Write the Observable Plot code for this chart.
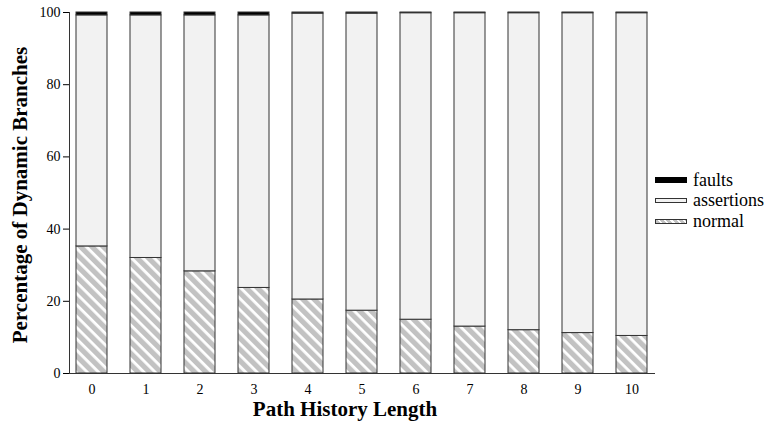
<!DOCTYPE html>
<html>
<head>
<meta charset="utf-8">
<script src="https://cdn.jsdelivr.net/npm/d3@7"></script>
<script src="https://cdn.jsdelivr.net/npm/@observablehq/plot@0.6"></script>
<style>
  html, body { margin: 0; padding: 0; background: #fff; }
  #wrap { position: relative; width: 764px; height: 427px; }
  #legend { position: absolute; left: 655px; top: 170px; font-family: 'Liberation Serif', 'Times New Roman', Times, serif; font-size: 18px; color: #000; white-space: nowrap; }
  #legend .item { display: flex; align-items: center; height: 20.5px; font-family: 'Liberation Serif', 'Times New Roman', Times, serif; }
  #legend .sw { width: 32px; height: 5px; margin-right: 6px; box-sizing: border-box; border: 1px solid #333; flex: none; }
</style>
</head>
<body>
<div id="wrap"></div>
<script>
const lengths = ["0","1","2","3","4","5","6","7","8","9","10"];
const normal = [35.2, 32.0, 28.3, 23.7, 20.5, 17.4, 14.9, 13.0, 12.0, 11.2, 10.4];
const faults = [0.8, 0.8, 0.8, 0.8, 0.3, 0.3, 0.2, 0.2, 0.2, 0.2, 0.2];
const assertions = lengths.map((_, i) => 100 - normal[i] - faults[i]);
const series = ["normal", "assertions", "faults"];
const yTicks = [0, 20, 40, 60, 80, 100];

const rows = [];
lengths.forEach((len, i) => {
  rows.push({len, type: "normal", value: normal[i]});
  rows.push({len, type: "assertions", value: assertions[i]});
  rows.push({len, type: "faults", value: faults[i]});
});

const font = '"Liberation Serif", "Times New Roman", serif';

const chart = Plot.plot({
  width: 764,
  height: 427,
  marginLeft: 69,
  marginRight: 109,
  marginTop: 12,
  marginBottom: 54,
  style: {fontFamily: font, fontSize: "14px", color: "#000", background: "#fff"},
  x: {type: "band", domain: lengths, paddingInner: 0.42, paddingOuter: 0.04, label: null, tickSize: 0, tickPadding: 11},
  y: {domain: [0, 100], ticks: yTicks, label: null, tickSize: 6, tickPadding: 3},
  color: {domain: series, range: ["url(#hatch)", "#f2f2f2", "#000"]},
  marks: [
    Plot.barY(rows, Plot.stackY({x: "len", y: "value", fill: "type", order: series, stroke: "#333", strokeWidth: 1})),
    Plot.ruleY([0], {stroke: "#333"}),
    Plot.frame({anchor: "left", stroke: "#333"})
  ]
});

const svg = d3.select(chart);
const defs = svg.insert("defs", ":first-child");
const pat = defs.append("pattern")
  .attr("id", "hatch")
  .attr("patternUnits", "userSpaceOnUse")
  .attr("width", 8).attr("height", 8)
  .attr("patternTransform", "rotate(45)");
pat.append("rect").attr("width", 8).attr("height", 8).attr("fill", "#c2c2c2");
pat.append("rect").attr("y", 0).attr("width", 8).attr("height", 2.8).attr("fill", "#fff");

svg.append("text")
  .attr("x", 345).attr("y", 416)
  .attr("text-anchor", "middle")
  .attr("font-family", font).attr("font-weight", "bold").attr("font-size", 21)
  .attr("fill", "#000")
  .text("Path History Length");

svg.append("text")
  .attr("transform", "translate(27,195) rotate(-90)")
  .attr("text-anchor", "middle")
  .attr("font-family", font).attr("font-weight", "bold").attr("font-size", 21)
  .attr("fill", "#000")
  .text("Percentage of Dynamic Branches");

const wrap = document.getElementById("wrap");
wrap.appendChild(chart);

const legend = document.createElement("div");
legend.id = "legend";
const legendItems = [
  {label: "faults", style: "background:#000;border-color:#000;height:6px;"},
  {label: "assertions", style: "background:#f2f2f2;"},
  {label: "normal", style: "background:repeating-linear-gradient(45deg,#c2c2c2 0 3px,#fff 3px 4.5px);"}
];
legendItems.forEach(it => {
  const d = document.createElement("div");
  d.className = "item";
  d.innerHTML = `<span class="sw" style="${it.style}"></span><span>${it.label}</span>`;
  legend.appendChild(d);
});
wrap.appendChild(legend);
</script>
</body>
</html>
